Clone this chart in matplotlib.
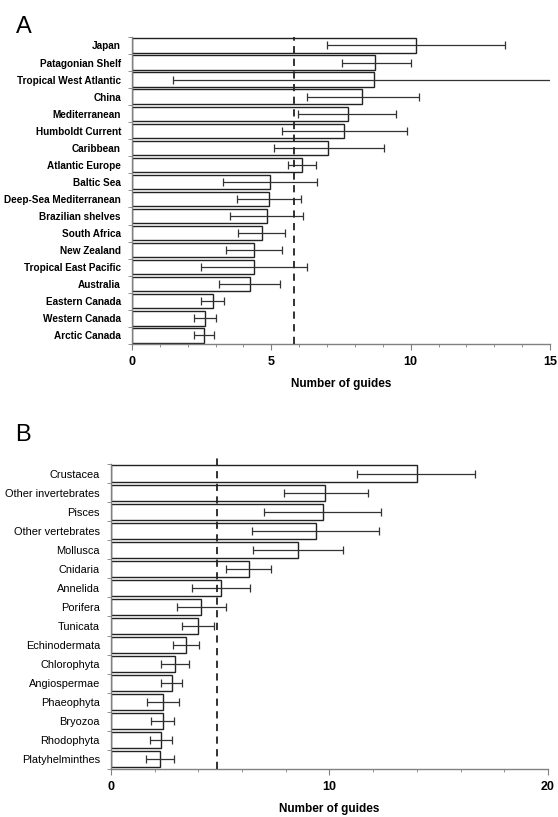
import numpy as np
import matplotlib
matplotlib.use('Agg')
import matplotlib.pyplot as plt
from matplotlib.ticker import MultipleLocator, FixedLocator

plt.rcParams['font.family'] = ['Liberation Sans', 'DejaVu Sans']

# Panel A: regions
regions = ['Japan', 'Patagonian Shelf', 'Tropical West Atlantic', 'China',
           'Mediterranean', 'Humboldt Current', 'Caribbean', 'Atlantic Europe',
           'Baltic Sea', 'Deep-Sea Mediterranean', 'Brazilian shelves',
           'South Africa', 'New Zealand', 'Tropical East Pacific', 'Australia',
           'Eastern Canada', 'Western Canada', 'Arctic Canada']
reg_mean = [10.2, 8.73, 8.67, 8.26, 7.75, 7.62, 7.05, 6.1, 4.96, 4.92, 4.83,
            4.67, 4.36, 4.36, 4.23, 2.89, 2.63, 2.58]
reg_low = [7.0, 7.52, 1.47, 6.28, 5.96, 5.38, 5.09, 5.6, 3.25, 3.75, 3.53,
           3.81, 3.38, 2.49, 3.12, 2.46, 2.21, 2.21]
reg_high = [13.4, 10.0, 15.9, 10.3, 9.48, 9.88, 9.05, 6.6, 6.65, 6.07, 6.14,
            5.5, 5.38, 6.27, 5.32, 3.3, 3.0, 2.94]
reg_avg = 5.83

# Panel B: taxa
taxa = ['Crustacea', 'Other invertebrates', 'Pisces', 'Other vertebrates',
        'Mollusca', 'Cnidaria', 'Annelida', 'Porifera', 'Tunicata',
        'Echinodermata', 'Chlorophyta', 'Angiospermae', 'Phaeophyta',
        'Bryozoa', 'Rhodophyta', 'Platyhelminthes']
tax_mean = [14.02, 9.8, 9.71, 9.38, 8.57, 6.31, 5.04, 4.13, 3.98, 3.45,
            2.93, 2.78, 2.39, 2.36, 2.28, 2.24]
tax_low = [11.28, 7.92, 6.99, 6.44, 6.49, 5.28, 3.72, 3.01, 3.24, 2.83,
           2.31, 2.31, 1.66, 1.85, 1.79, 1.58]
tax_high = [16.67, 11.74, 12.36, 12.28, 10.63, 7.32, 6.34, 5.28, 4.7, 4.03,
            3.56, 3.24, 3.11, 2.88, 2.78, 2.88]
tax_avg = 4.86

fig = plt.figure(figsize=(5.58, 8.17), dpi=100)
axA = fig.add_axes([0.2366, 0.5790, 0.749, 0.3758])
axB = fig.add_axes([0.1989, 0.0588, 0.7832, 0.3733])


def panel(ax, names, mean, low, high, avg, xmax, major, minor, weight, fs, dash_top):
    n = len(names)
    y = np.arange(n)
    mean = np.array(mean)
    err = [mean - np.array(low), np.array(high) - mean]
    ax.barh(y, mean, height=0.84, color='white', edgecolor='#222222', linewidth=1.0, zorder=2)
    ax.errorbar(mean, y, xerr=err, fmt='none', ecolor='#333333', elinewidth=0.9,
                capsize=3, capthick=0.9, zorder=3)
    ax.plot([avg, avg], [n - 0.5, -0.5 - dash_top], ls=(0, (4, 3)), color='#222222',
            lw=1.3, zorder=4, clip_on=False)
    ax.set_ylim(n - 0.5, -0.5)
    ax.set_xlim(0, xmax)
    ax.set_yticks(y)
    ax.set_yticklabels(names, fontsize=fs, fontweight=weight)
    ax.yaxis.set_minor_locator(FixedLocator(np.arange(n + 1) - 0.5))
    ax.tick_params(axis='y', which='major', length=0, pad=8)
    ax.tick_params(axis='y', which='minor', length=3, color='#808080', direction='out')
    ax.xaxis.set_major_locator(MultipleLocator(major))
    ax.xaxis.set_minor_locator(MultipleLocator(minor))
    ax.tick_params(axis='x', which='major', length=4, color='#808080', pad=5,
                   labelsize=9)
    ax.tick_params(axis='x', which='minor', length=2, color='#808080')
    for lab in ax.get_xticklabels():
        lab.set_fontweight('bold')
    ax.set_xlabel('Number of guides', fontsize=8.5, fontweight='bold', labelpad=7)
    for s in ['top', 'right']:
        ax.spines[s].set_visible(False)
    for s in ['left', 'bottom']:
        ax.spines[s].set_color('#808080')
        ax.spines[s].set_linewidth(1.0)


panel(axA, regions, reg_mean, reg_low, reg_high, reg_avg, 15, 5, 1, 'bold', 7.2, 0)
panel(axB, taxa, tax_mean, tax_low, tax_high, tax_avg, 20, 10, 2, 'normal', 7.9, 0.5)

fig.text(0.028, 0.967, 'A', fontsize=17, va='center', ha='left')
fig.text(0.028, 0.467, 'B', fontsize=17, va='center', ha='left')

fig.savefig('out.png', dpi=100)
